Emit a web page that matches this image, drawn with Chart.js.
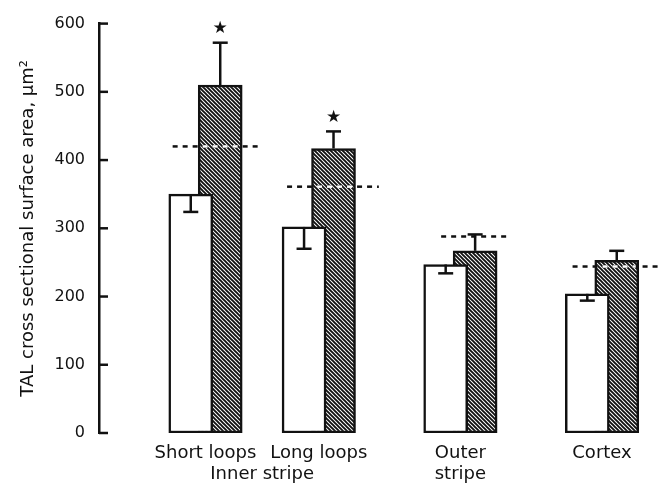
<!DOCTYPE html>
<html>
<head>
<meta charset="utf-8">
<script src="https://cdn.jsdelivr.net/npm/chart.js@4.4.1/dist/chart.umd.min.js"></script>
<style>
  body { margin: 0; background: #fff; }
</style>
</head>
<body>
<canvas id="tal-chart" width="670" height="483"></canvas>
<script>
// regions along the nephron and their place on the x axis
const regions = ['Short loops', 'Long loops', 'Outer stripe', 'Cortex'];
const regionPos = [1, 2, 3.25, 4.5];

// TAL cross sectional area (um2), control vs treated, with SE
const controlArea = [350, 302, 247, 204];
const controlErr = [26, 32, 13, 10];
const treatedArea = [510, 417, 267, 253];
const treatedErr = [62, 25, 24, 14];
const significant = [true, true, false, false];

// dashed reference levels and where each one starts / stops
const refLevel = [420, 361, 288, 244];
const refFrom = [0.71, 1.72, 3.08, 4.24];
const refTo = [1.5, 2.53, 3.66, 5.03];

// x axis labels (multi line)
const tickPos = [1, 1.5, 2, 3.25, 4.5];
const tickLabels = [['Short loops'], ['', 'Inner stripe'], ['Long loops'], ['Outer', 'stripe'], ['Cortex']];

const yTicks = [0, 100, 200, 300, 400, 500, 600];

const ink = '#111';
const barShift = 0.13;

function hatch() {
  const c = document.createElement('canvas');
  c.width = 4; c.height = 4;
  const g = c.getContext('2d');
  g.fillStyle = '#fff';
  g.fillRect(0, 0, 4, 4);
  g.strokeStyle = ink;
  g.lineWidth = 1.9;
  g.beginPath();
  g.moveTo(-1, -1); g.lineTo(5, 5);
  g.moveTo(-1, 3); g.lineTo(1, 5);
  g.moveTo(3, -1); g.lineTo(5, 1);
  g.stroke();
  return g.createPattern(c, 'repeat');
}

function seg(ctx, x1, y1, x2, y2) {
  ctx.beginPath();
  ctx.moveTo(x1, y1);
  ctx.lineTo(x2, y2);
  ctx.stroke();
}

const extras = {
  id: 'extras',
  afterDatasetsDraw(chart) {
    const {ctx, scales: {x, y}} = chart;
    const white = chart.getDatasetMeta(0).data;
    const hatched = chart.getDatasetMeta(1).data;
    ctx.save();
    ctx.strokeStyle = ink;
    ctx.lineWidth = 2.5;

    // tick marks point into the plot
    y.ticks.forEach(t => {
      const py = y.getPixelForValue(t.value);
      seg(ctx, x.left, py, x.left + 9, py);
    });

    regions.forEach((r, i) => {
      // dashed reference line, white where it crosses the hatched bar
      const ry = y.getPixelForValue(refLevel[i]);
      const rx1 = x.getPixelForValue(refFrom[i]);
      const rx2 = x.getPixelForValue(refTo[i]);
      ctx.setLineDash([5, 5]);
      seg(ctx, rx1, ry, rx2, ry);
      const b = hatched[i].getProps(['x', 'y', 'base', 'width'], true);
      ctx.save();
      ctx.beginPath();
      ctx.rect(b.x - b.width / 2 + 3, b.y + 3, b.width - 6, b.base - b.y - 6);
      ctx.clip();
      ctx.strokeStyle = '#fff';
      seg(ctx, rx1, ry, rx2, ry);
      ctx.restore();
      ctx.setLineDash([]);

      // control: error bar hangs down into the bar
      const cx = white[i].x;
      const c0 = y.getPixelForValue(controlArea[i]);
      const c1 = y.getPixelForValue(controlArea[i] - controlErr[i]);
      seg(ctx, cx, c0, cx, c1);
      seg(ctx, cx - 7.5, c1, cx + 7.5, c1);

      // treated: error bar goes up
      const hx = hatched[i].x;
      const h0 = y.getPixelForValue(treatedArea[i]);
      const h1 = y.getPixelForValue(treatedArea[i] + treatedErr[i]);
      seg(ctx, hx, h0, hx, h1);
      seg(ctx, hx - 7.5, h1, hx + 7.5, h1);

      if (significant[i]) {
        ctx.fillStyle = ink;
        ctx.font = '17px "DejaVu Sans"';
        ctx.textAlign = 'center';
        ctx.textBaseline = 'middle';
        ctx.fillText('\u2605', hx, h1 - 14);
      }
    });
    ctx.restore();
  }
};

const config = {
  type: 'bar',
  data: {
    datasets: [
      {
        label: 'Control',
        data: regionPos.map((p, i) => ({x: p - barShift, y: controlArea[i]})),
        backgroundColor: '#fff'
      },
      {
        label: 'Treated',
        data: regionPos.map((p, i) => ({x: p + barShift, y: treatedArea[i]})),
        backgroundColor: hatch()
      }
    ]
  },
  options: {
    responsive: false,
    animation: false,
    grouped: false,
    barThickness: 44,
    borderWidth: 2.5,
    borderColor: ink,
    borderSkipped: false,
    layout: {
      padding: {top: 18, right: 0, bottom: 0, left: 0}
    },
    plugins: {
      legend: {display: false},
      tooltip: {enabled: false}
    },
    scales: {
      x: {
        type: 'linear',
        offset: false,
        min: 0.06,
        max: 5.1,
        grid: {display: false, drawTicks: false},
        border: {display: false},
        afterBuildTicks: (s) => { s.ticks = tickPos.map(v => ({value: v})); },
        afterFit: (s) => { s.height = 50; },
        ticks: {
          autoSkip: false,
          maxRotation: 0,
          padding: 10,
          color: ink,
          font: {family: '"DejaVu Sans"', size: 18, lineHeight: 1.15},
          callback: (v, i) => tickLabels[i]
        }
      },
      y: {
        min: 0,
        max: 600,
        grid: {display: false, drawTicks: false},
        border: {display: true, color: ink, width: 2.5},
        afterBuildTicks: (s) => { s.ticks = yTicks.map(v => ({value: v})); },
        afterFit: (s) => { s.width = 99; },
        ticks: {
          padding: 14,
          color: ink,
          font: {family: '"DejaVu Sans"', size: 16}
        },
        title: {
          display: true,
          text: 'TAL cross sectional surface area, \u03bcm\u00b2',
          color: ink,
          font: {family: '"DejaVu Sans"', size: 18},
          padding: {top: 18, bottom: 0}
        }
      }
    }
  },
  plugins: [extras]
};

const chart = new Chart(document.getElementById('tal-chart'), config);
</script>
</body>
</html>
